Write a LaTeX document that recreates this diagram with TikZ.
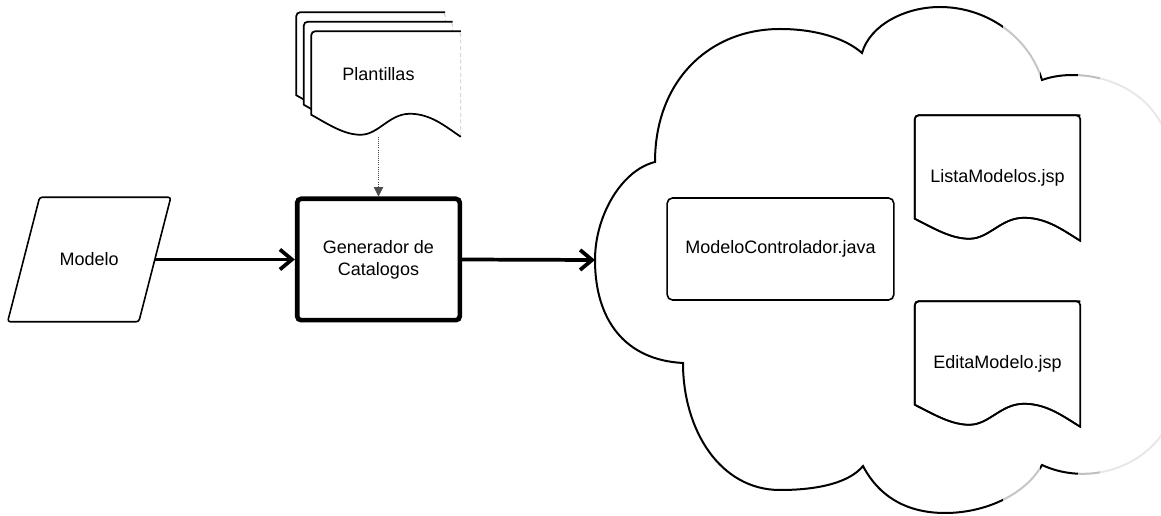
\documentclass[tikz,border=0pt]{standalone}
\usepackage{fontspec}
\setmainfont{Liberation Sans}
\usepackage{tikz}
\usetikzlibrary{shapes.geometric, arrows.meta, positioning, calc, backgrounds}

\newcommand{\docwave}{%
  .. controls ($(d-sw)!0.12!(d-se)+(0,-12)$) and ($(d-sw)!0.22!(d-se)+(0,-2)$) .. ($(d-sw)!0.33!(d-se)+(0,-2)$)
  .. controls ($(d-sw)!0.45!(d-se)+(0,-2)$) and ($(d-sw)!0.52!(d-se)+(0,-23)$) .. ($(d-sw)!0.66!(d-se)+(0,-23)$)
  .. controls ($(d-sw)!0.80!(d-se)+(0,-23)$) and ($(d-sw)!0.90!(d-se)+(0,-10)$) .. (d-se)}

\newcommand{\docoutline}[4]{%
  \path (#3) coordinate (d-nw) (#4) coordinate (d-se);
  \path (d-nw |- d-se) coordinate (d-sw) (d-se |- d-nw) coordinate (d-ne);
  \filldraw[fill=white, #2] (d-se) [rounded corners=3pt] -- (d-ne) -- (d-nw) [sharp corners] -- ([yshift=16.5pt]d-sw) \docwave -- cycle;
  \draw[#1] (d-ne) [rounded corners=3pt] -- (d-nw) [sharp corners] -- ([yshift=16.5pt]d-sw) \docwave;
}

\newcommand{\nubepath}{(nube) .. controls (595,215) and (622,170) .. (655,162)
  .. controls (655,80) and (710,29) .. (780,29) .. controls (815,29) and (845,38) .. (862,53)
  .. controls (870,25) and (905,7) .. (940,7) .. controls (985,7) and (1028,35) .. (1042,80)
  .. controls (1080,66) and (1150,80) .. (1168,140)
  .. controls (1172,200) and (1172,380) .. (1165,430)
  .. controls (1140,470) and (1085,485) .. (1042,465)
  .. controls (1025,495) and (985,513) .. (945,513) .. controls (905,513) and (878,495) .. (863,466)
  .. controls (850,482) and (820,490) .. (780,490) .. controls (720,490) and (683,430) .. (683,363)
  .. controls (625,360) and (595,320) .. (nube)}

\begin{document}
\begin{tikzpicture}[
    x=0.75pt, y=-0.75pt,
    >={Straight Barb[length=9pt, width=15pt]},
    every node/.style={align=center, font=\fontsize{13.5}{16.5}\selectfont}
]

\tikzset{
    modelobox/.style={rectangle, minimum width=98pt, minimum height=93pt},
    modeloline/.style={draw=black, line width=1.2pt, rounded corners=2pt},
    generadorbox/.style={rectangle, draw, line width=3.5pt, rounded corners=3pt, minimum width=122pt, minimum height=91pt},
    stackbox/.style={rectangle, minimum width=123pt, minimum height=93pt},
    docbox/.style={rectangle, minimum width=123.75pt, minimum height=93.75pt},
    controlbox/.style={rectangle, draw, line width=1.2pt, rounded corners=4pt, minimum width=170pt, minimum height=76.5pt},
    docline/.style={draw=black, line width=1.3pt},
    faintedge/.style={draw=gray!45, line width=0.6pt, densely dashed},
    flujo/.style={->, line width=2.8pt},
    enlace/.style={-{Triangle[length=7pt, width=7pt]}, densely dotted, line width=0.6pt, draw=gray!60!black},
    nubeline/.style={line width=1.5pt}
}

\useasboundingbox (0,0) rectangle (1161,516);

\node [generadorbox] (generador) at (378.5,259.5) {Generador de\\Catalogos};

\node [modelobox] (modelo) [left=105pt of generador] {Modelo};

\node [stackbox] (plantillas) [above=44.8pt of generador] {Plantillas};

\node [controlbox] (controlador) at (780.5,249) {ModeloControlador.java};

\node [docbox] (lista) at (997.5,178) {ListaModelos.jsp};

\node [docbox] (edita) at (997.5,364) {EditaModelo.jsp};

\coordinate (nube) at (595,260);

\draw [modeloline] ([xshift=12pt]modelo.north west) -- ([xshift=12pt]modelo.north east)
    -- ([xshift=-12pt]modelo.south east) -- ([xshift=-12pt]modelo.south west) -- cycle;

\foreach \xa/\xb/\tono in {0/1003/black, 1003/1040/gray!45, 1040/1078/black, 1078/1100/gray!50, 1100/1161/gray!18} {
    \begin{scope}
        \clip (\xa,0) rectangle (\xb,516);
        \draw [nubeline, draw=\tono] \nubepath;
    \end{scope}
}

\begin{scope}[on background layer]
    \docoutline{docline}{faintedge}{plantillas.north west}{$(plantillas.north west)+(149,105)$}
    \docoutline{docline}{faintedge}{$(plantillas.north west)+(7.5,9.5)$}{$(plantillas.north west)+(156.5,114.5)$}
    \docoutline{docline}{faintedge}{$(plantillas.north west)+(15,19)$}{plantillas.south east}
    \docoutline{docline}{docline}{lista.north west}{lista.south east}
    \docoutline{docline}{docline}{edita.north west}{edita.south east}
\end{scope}

\draw [flujo] (modelo.east) -- (generador.west);

\draw [flujo] (generador.east) -- (nube);

\draw [enlace] (plantillas.south) -- (generador.north);

\end{tikzpicture}
\end{document}
